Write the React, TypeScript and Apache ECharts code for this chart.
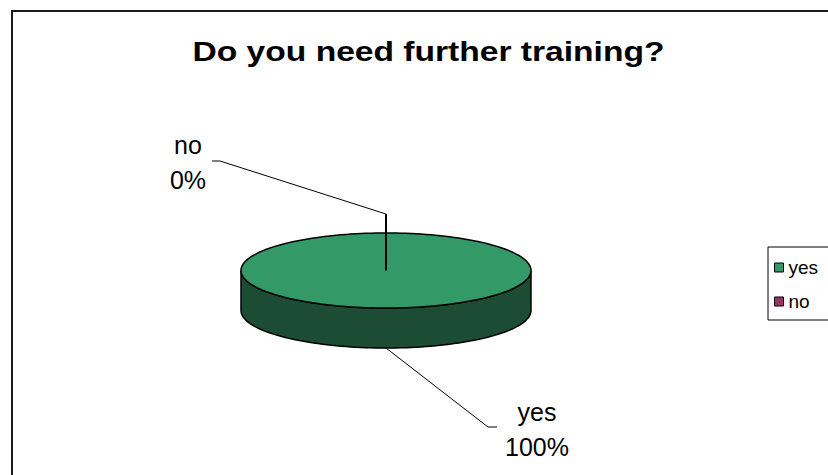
import React, { useEffect, useRef } from "react";
import * as echarts from "echarts";

// ---- data ----
const TITLE = "Do you need further training?";
const categories = ["yes", "no"];
const values = [100, 0];

// ---- styles / layout ----
const TOP_COLORS = ["#339966", "#993366"];
const SIDE_COLORS = ["#1c4c34", "#4c1c34"];
const FONT = "'Liberation Sans', Arial, sans-serif";
const CX = 386;
const CY = 270.5;
const RX = 145;
const RY = 37.5;
const DEPTH = 40;
const LEADERS: { points: number[][]; firstWidth: number; label: number[] }[] = [
  { points: [[488, 427], [497, 427]], firstWidth: 1, label: [537, 429] },
  { points: [[386, 214], [220, 161], [212, 161]], firstWidth: 2, label: [188, 162] },
];

const total = values.reduce((a, b) => a + b, 0);

function pt(a: number, yOff = 0): number[] {
  return [CX + RX * Math.sin(a), CY - RY * Math.cos(a) + yOff];
}
function arc(a0: number, a1: number, yOff: number): number[][] {
  const n = Math.max(2, Math.ceil((Math.abs(a1 - a0) / (2 * Math.PI)) * 180));
  const pts: number[][] = [];
  for (let i = 0; i <= n; i++) pts.push(pt(a0 + ((a1 - a0) * i) / n, yOff));
  return pts;
}

function makeRender(idx: number) {
  return (_params: any, api: any) => {
    const v = api.value(0) as number;
    const before = values.slice(0, idx).reduce((a, b) => a + b, 0);
    const a0 = (before / total) * 2 * Math.PI;
    const a1 = ((before + v) / total) * 2 * Math.PI;
    const mid = (a0 + a1) / 2;
    const children: any[] = [];
    if (a1 > a0) {
      const s0 = Math.max(a0, Math.PI / 2);
      const s1 = Math.min(a1, (3 * Math.PI) / 2);
      if (s1 > s0) {
        const side = [...arc(s0, s1, 0), ...arc(s1, s0, DEPTH)];
        children.push({
          type: "polygon",
          shape: { points: side },
          style: { fill: SIDE_COLORS[idx], stroke: "#000", lineWidth: 1.5 },
        });
      }
      const full = a1 - a0 >= 2 * Math.PI - 1e-9;
      const top = full ? arc(0, 2 * Math.PI, 0) : [[CX, CY], ...arc(a0, a1, 0)];
      children.push({
        type: "polygon",
        shape: { points: top },
        style: { fill: TOP_COLORS[idx], stroke: "#000", lineWidth: 1.5 },
      });
    } else {
      const e = pt(a0, 0);
      children.push({
        type: "line",
        shape: { x1: CX, y1: CY, x2: e[0], y2: e[1] },
        style: { stroke: "#000", lineWidth: 2 },
      });
    }
    const front = Math.cos(mid) < 0;
    const start = pt(mid, front ? DEPTH : 0);
    const lp = LEADERS[idx];
    children.push({
      type: "line",
      shape: { x1: start[0], y1: start[1], x2: lp.points[0][0], y2: lp.points[0][1] },
      style: { stroke: "#000", lineWidth: lp.firstWidth },
    });
    children.push({
      type: "polyline",
      shape: { points: lp.points },
      style: { stroke: "#000", lineWidth: 1, fill: "none" },
    });
    const pct = Math.round((v / total) * 100);
    children.push({
      type: "text",
      x: lp.label[0],
      y: lp.label[1],
      style: {
        text: `${categories[idx]}\n${pct}%`,
        fill: "#000",
        fontSize: 25,
        fontFamily: FONT,
        align: "center",
        verticalAlign: "middle",
        lineHeight: 35,
      },
    });
    return { type: "group", children };
  };
}

export default function App() {
  const ref = useRef<HTMLDivElement>(null);
  useEffect(() => {
    if (!ref.current) return;
    const chart = echarts.init(ref.current, null, { renderer: "svg" });
    chart.setOption({
      animation: false,
      backgroundColor: "#ffffff",
      legend: {
        orient: "vertical",
        left: 768,
        top: 247,
        data: categories,
        icon: "rect",
        itemWidth: 9,
        itemHeight: 9,
        itemGap: 15,
        padding: [11, 60, 9, 6],
        borderColor: "#000",
        borderWidth: 1,
        selectedMode: false,
        textStyle: { fontSize: 19, color: "#000", fontFamily: FONT },
        itemStyle: { borderColor: "#000", borderWidth: 1 },
      },
      graphic: [
        {
          type: "rect",
          shape: { x: 12, y: 11, width: 840, height: 490 },
          style: { fill: "none", stroke: "#1a1a1a", lineWidth: 2 },
        },
        {
          type: "text",
          x: 428.5,
          y: 51,
          scaleX: 1.2,
          style: {
            text: TITLE,
            fill: "#000",
            fontSize: 28,
            fontWeight: "bold",
            fontFamily: FONT,
            align: "center",
            verticalAlign: "middle",
          },
        },
      ],
      series: categories.map((name, i) => ({
        type: "custom",
        name,
        coordinateSystem: "none",
        itemStyle: { color: TOP_COLORS[i], borderColor: "#000", borderWidth: 1 },
        renderItem: makeRender(i),
        data: [[values[i]]],
      })),
    });
    return () => chart.dispose();
  }, []);
  return (
    <div
      ref={ref}
      style={{ position: "fixed", left: 0, top: 0, width: 828, height: 475, background: "#fff" }}
    />
  );
}
